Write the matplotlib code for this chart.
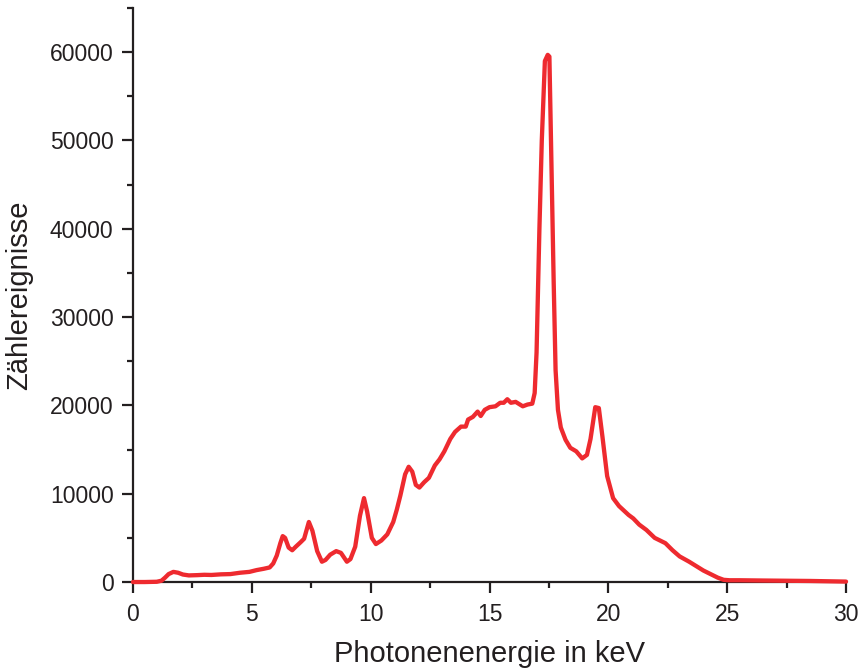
import matplotlib
matplotlib.use("Agg")
import matplotlib.pyplot as plt
from matplotlib.ticker import MultipleLocator

plt.rcParams['font.family'] = ['Liberation Sans', 'DejaVu Sans']

energy_keV = [0.0, 0.5, 1.0, 1.2, 1.35, 1.5, 1.7, 1.9, 2.1, 2.35, 2.7, 3.0, 3.3, 3.7, 4.1,
              4.5, 4.9, 5.2, 5.5, 5.75, 5.9, 6.05, 6.2, 6.3, 6.4, 6.55, 6.7, 6.85, 7.05,
              7.2, 7.4, 7.55, 7.75, 7.95, 8.1, 8.3, 8.55, 8.75, 9.0, 9.15, 9.35, 9.55,
              9.72, 9.85, 10.05, 10.22, 10.45, 10.7, 10.95, 11.1, 11.25, 11.45, 11.6,
              11.75, 11.9, 12.05, 12.25, 12.45, 12.7, 12.9, 13.1, 13.35, 13.55, 13.8,
              14.0, 14.1, 14.3, 14.5, 14.63, 14.8, 15.0, 15.25, 15.45, 15.6, 15.75,
              15.9, 16.1, 16.4, 16.6, 16.8, 16.9, 16.98, 17.1, 17.2, 17.33, 17.45,
              17.52, 17.6, 17.7, 17.78, 17.88, 18.0, 18.2, 18.4, 18.65, 18.9, 19.1,
              19.25, 19.45, 19.6, 19.75, 19.95, 20.2, 20.45, 20.65, 20.85, 21.05,
              21.3, 21.6, 21.95, 22.4, 22.7, 23.0, 23.4, 23.7, 24.0, 24.3, 24.6,
              24.85, 25.1, 25.5, 26.0, 26.5, 27.0, 27.5, 28.0, 28.5, 29.0, 29.5, 30.0]
counts = [0, 0, 30, 150, 500, 900, 1150, 1050, 850, 750, 780, 820, 800, 870, 900,
          1050, 1150, 1350, 1500, 1650, 2100, 3000, 4400, 5200, 5000, 3900, 3600, 4000, 4500,
          4900, 6800, 5800, 3500, 2300, 2500, 3100, 3500, 3300, 2300, 2600, 4000, 7500,
          9500, 8000, 5000, 4300, 4700, 5400, 6800, 8200, 9800, 12200, 13050,
          12500, 11000, 10700, 11300, 11800, 13200, 13900, 14800, 16200, 17000, 17600,
          17600, 18400, 18700, 19300, 18800, 19500, 19800, 19900, 20300, 20300, 20700,
          20300, 20400, 19900, 20100, 20200, 21400, 26000, 40000, 50000, 59000, 59700,
          59500, 48000, 34000, 24000, 19500, 17500, 16100, 15200, 14800, 14000, 14400,
          16200, 19800, 19700, 16500, 12000, 9500, 8600, 8100, 7600,
          7200, 6500, 5900, 5000, 4400, 3600, 2900, 2300, 1800, 1300, 900,
          500, 250, 200, 200, 180, 170, 160, 150, 140, 120, 100, 70, 50]

x_ticks = [0, 5, 10, 15, 20, 25, 30]
y_ticks = [0, 10000, 20000, 30000, 40000, 50000, 60000]
x_label = "Photonenenergie in keV"
y_label = "Zählereignisse"

fig = plt.figure(figsize=(8.59, 6.70), dpi=100)
ax = fig.add_axes([0.1548, 0.1313, 0.8301, 0.8567])

ax.plot(energy_keV, counts, color='#ee2a2f', lw=3.1, solid_joinstyle='round',
        solid_capstyle='round', clip_on=False, zorder=3)

ax.set_xlim(0, 30)
ax.set_ylim(0, 65000)
ax.set_xticks(x_ticks)
ax.set_yticks(y_ticks)
ax.set_xticklabels([str(v) for v in x_ticks])
ax.set_yticklabels([str(v) for v in y_ticks])
ax.xaxis.set_minor_locator(MultipleLocator(2.5))
ax.yaxis.set_minor_locator(MultipleLocator(5000))

spine_color = '#231f20'
for s in ['top', 'right']:
    ax.spines[s].set_visible(False)
for s in ['left', 'bottom']:
    ax.spines[s].set_color(spine_color)
    ax.spines[s].set_linewidth(1.6)

ax.tick_params(which='major', direction='out', length=8, width=1.6,
               color=spine_color, labelsize=16.5, labelcolor=spine_color, pad=6)
ax.tick_params(which='minor', direction='out', length=4.5, width=1.6, color=spine_color)
ax.tick_params(axis='x', which='major', pad=7)

ax.set_xlabel(x_label, fontsize=21, color=spine_color, labelpad=10)
ax.set_ylabel(y_label, fontsize=21, color=spine_color, labelpad=12)

fig.savefig('out.png', dpi=100)
